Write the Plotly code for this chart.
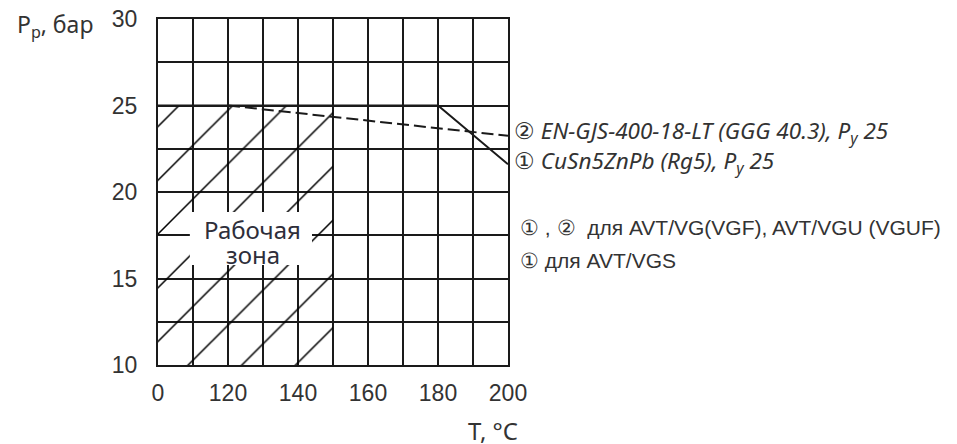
import plotly.graph_objects as go

# ---- data ----
x_tickvals = [100, 110, 120, 130, 140, 150, 160, 170, 180, 190, 200]
x_ticktext = ["0", "", "120", "", "140", "", "160", "", "180", "", "200"]
y_tickvals = [10, 12.5, 15, 17.5, 20, 22.5, 25, 27.5, 30]
y_ticktext = ["10", "", "15", "", "20", "", "25", "", "30"]

# series 1: CuSn5ZnPb (Rg5) – solid
s1_t = [100, 180, 200]
s1_p = [25, 25, 21.6]
# series 2: EN-GJS-400-18-LT – dashed
s2_t = [120, 200]
s2_p = [25, 23.25]
# working zone (hatched)
zone_t = [100, 150, 150, 100, 100]
zone_p = [10, 10, 25, 25, 10]

label2 = "② <i>EN-GJS-400-18-LT (GGG 40.3), P<sub>y</sub> 25</i>"
label1 = "① <i>CuSn5ZnPb (Rg5), P<sub>y</sub> 25</i>"
note1 = "① , ②  для AVT/VG(VGF), AVT/VGU (VGUF)"
note2 = "① для AVT/VGS"
zone_line1 = "Рабочая"
zone_line2 = "зона"

fig = go.Figure()

fig.add_trace(go.Scatter(
    x=zone_t, y=zone_p, mode="lines", fill="toself",
    line=dict(width=0, color="rgba(0,0,0,0)"),
    fillcolor="rgba(0,0,0,0)",
    fillpattern=dict(shape="/", size=38, solidity=0.04, fgopacity=1,
                     fgcolor="#000000", bgcolor="rgba(0,0,0,0)"),
    hoverinfo="skip", showlegend=False))

fig.add_trace(go.Scatter(x=s1_t, y=s1_p, mode="lines",
                         line=dict(color="#1a1a1a", width=2),
                         showlegend=False))
fig.add_trace(go.Scatter(x=s2_t, y=s2_p, mode="lines",
                         line=dict(color="#1a1a1a", width=2, dash="12px,5px"),
                         showlegend=False))

tick_font = dict(family="Liberation Sans, Arial, sans-serif", size=23, color="#333333")

fig.update_xaxes(range=[100, 200], tickmode="array", tickvals=x_tickvals,
                 ticktext=x_ticktext, showgrid=True, gridcolor="#1a1a1a",
                 gridwidth=2, showline=True, linecolor="#1a1a1a", linewidth=2,
                 mirror=True, zeroline=False, ticks="", tickfont=tick_font,
                 ticklabelstandoff=6, automargin=False,
                 ticklabeloverflow="allow")
fig.update_yaxes(range=[10, 30], tickmode="array", tickvals=y_tickvals,
                 ticktext=y_ticktext, showgrid=True, gridcolor="#1a1a1a",
                 gridwidth=2, showline=True, linecolor="#1a1a1a", linewidth=2,
                 mirror=True, zeroline=False, ticks="", tickfont=tick_font,
                 ticklabelstandoff=14, automargin=False,
                 ticklabeloverflow="allow")

ann_font_it = dict(family="Noto Sans, Open Sans, sans-serif", size=22.5, color="#333333")
ann_font = dict(family="Liberation Sans, Arial, sans-serif", size=21, color="#333333")

fig.add_annotation(x=200, y=23.45, xref="x", yref="y", text=label2,
                   showarrow=False, xanchor="left", xshift=4, font=ann_font_it)
fig.add_annotation(x=200, y=21.75, xref="x", yref="y", text=label1,
                   showarrow=False, xanchor="left", xshift=4, font=ann_font_it)
fig.add_annotation(x=200, y=17.95, xref="x", yref="y", text=note1,
                   showarrow=False, xanchor="left", xshift=10, font=ann_font)
fig.add_annotation(x=200, y=16.05, xref="x", yref="y", text=note2,
                   showarrow=False, xanchor="left", xshift=10, font=ann_font)

# white box behind the zone caption (covers grid and hatching)
fig.add_shape(type="rect", xref="x", yref="y", x0=109.1, x1=144.0,
              y0=15.78, y1=18.84, fillcolor="white", line=dict(width=0),
              layer="above")
zone_font = dict(family="Noto Sans, Open Sans, sans-serif", size=24, color="#2e2e3a")
fig.add_annotation(x=127.0, y=17.86, xref="x", yref="y", text=zone_line1,
                   showarrow=False, font=zone_font)
fig.add_annotation(x=127.0, y=16.36, xref="x", yref="y", text=zone_line2,
                   showarrow=False, font=zone_font)

fig.add_annotation(x=-0.41, y=1.0, xref="paper", yref="paper",
                   text="P<sub>р</sub>, бар", showarrow=False,
                   xanchor="left", yanchor="middle", yshift=-6,
                   font=dict(family="Noto Sans, Open Sans, sans-serif", size=23,
                             color="#333333"))
fig.add_annotation(x=0.957, y=-0.19, xref="paper", yref="paper",
                   text="T, °C", showarrow=False, xanchor="center",
                   yanchor="middle",
                   font=dict(family="Noto Sans, Open Sans, sans-serif", size=24,
                             color="#333333"))

fig.update_layout(width=949, height=436,
                  margin=dict(l=150, r=449, t=11, b=79),
                  plot_bgcolor="white", paper_bgcolor="white")

fig.write_html("out.html")
